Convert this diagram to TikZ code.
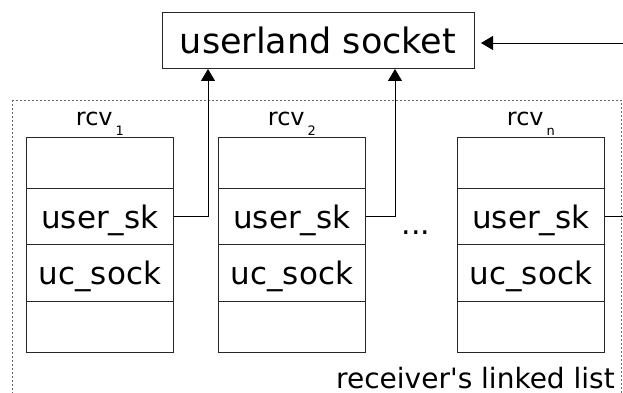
\documentclass[tikz,border=0pt]{standalone}
\usepackage{fontspec}
\setmainfont{DejaVu Sans}[Ligatures=TeXOff]
\usetikzlibrary{arrows.meta}
\begin{document}
\begin{tikzpicture}[x=1pt,y=-1pt,
  cell/.style={draw=black!85, line width=0.8pt, minimum width=147pt, inner sep=0pt, anchor=north west},
  celltxt/.style={font=\fontsize{31}{31}\selectfont, inner sep=0pt, anchor=base},
  lbl/.style={font=\fontsize{24}{24}\selectfont, inner sep=0pt, anchor=base},
  conn/.style={line width=0.8pt, -{Triangle[width=14pt,length=12pt]}},
]
\useasboundingbox (0,0) rectangle (623,393);
\clip (0,0) rectangle (623,393);
\fill[white] (0,0) rectangle (623,393);

% dashed list frame
\draw[black!60, line width=0.8pt, dash pattern=on 2pt off 2pt] (12,100) rectangle (621,430);

% userland socket
\node[draw=black!85, line width=0.8pt, minimum width=312pt, minimum height=56pt, inner sep=0pt,
      font=\fontsize{35}{35}\selectfont] (socket) at (318,40) {userland socket};

% receivers
\foreach \i/\x in {1/26, 2/218, n/457}{
  \node[cell, minimum height=51pt] (a\i) at (\x,137) {};
  \node[cell, minimum height=56pt] (b\i) at (\x,188) {};
  \node[cell, minimum height=57pt] (c\i) at (\x,244) {};
  \node[cell, minimum height=51pt] (d\i) at (\x,301) {};
  \path (b\i.center) ++(0,12) node[celltxt] (tb\i) {user\_sk};
  \path (c\i.center) ++(0,12) node[celltxt] (tc\i) {uc\_sock};
  \path (a\i.north) ++(0,-12) node[lbl] (r\i) {rcv\hspace{3pt}\raisebox{-10pt}{\fontsize{13}{13}\selectfont \i}};
}

\node[font=\fontsize{30}{30}\selectfont, inner sep=0pt, anchor=base] (dots) at (416,234) {...};
\node[font=\fontsize{28}{28}\selectfont, inner sep=0pt, anchor=base west] (llist) at (336,388) {receiver's linked list};

% connectors
\coordinate (t1) at (208,69);
\coordinate (t2) at (395,69);
\coordinate (tin) at (481,43);
\coordinate (cr) at (640,43);
\draw[conn] (b1.east) -| (t1);
\draw[conn] (b2.east) -| (t2);
\draw[conn] (bn.east) -| (cr) -- (tin);
\end{tikzpicture}
\end{document}
